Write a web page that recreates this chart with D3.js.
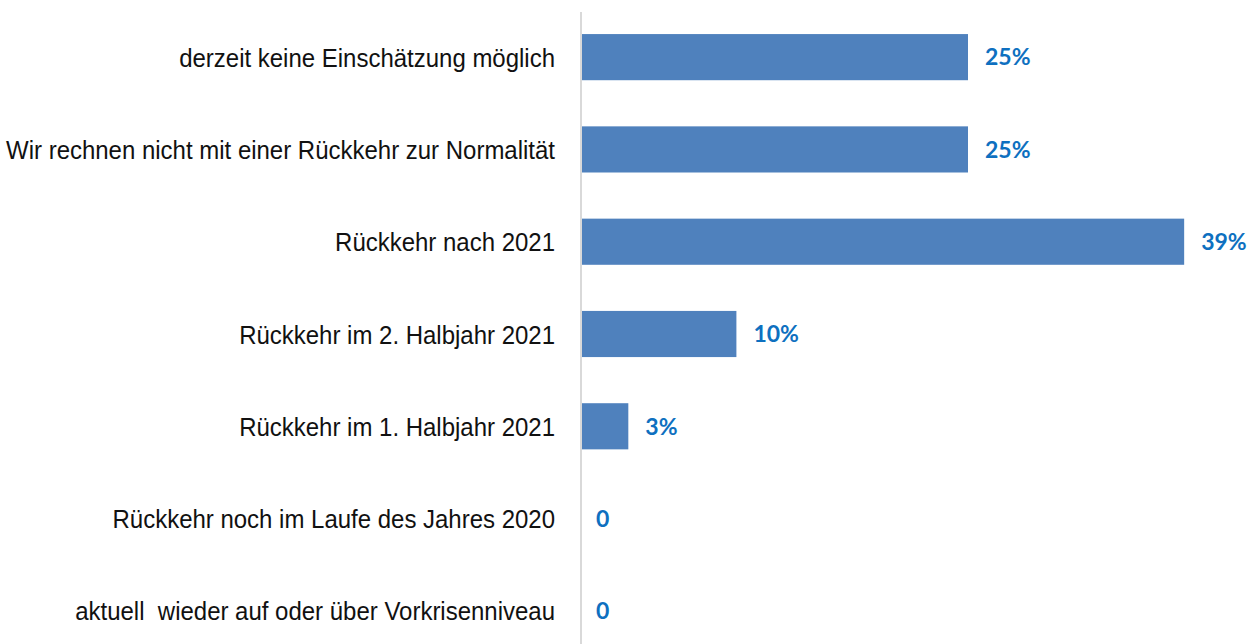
<!DOCTYPE html>
<html><head><meta charset="utf-8">
<script src="https://cdn.jsdelivr.net/npm/d3@7"></script>
<style>html,body{margin:0;padding:0;background:#fff;overflow:hidden}</style>
</head><body>
<svg id="c" width="1257" height="644"></svg>
<script>
const categories = [
  "derzeit keine Einschätzung möglich",
  "Wir rechnen nicht mit einer Rückkehr zur Normalität",
  "Rückkehr nach 2021",
  "Rückkehr im 2. Halbjahr 2021",
  "Rückkehr im 1. Halbjahr 2021",
  "Rückkehr noch im Laufe des Jahres 2020",
  "aktuell  wieder auf oder über Vorkrisenniveau"
];
const values = [25, 25, 39, 10, 3, 0, 0];
const valueLabels = ["25%", "25%", "39%", "10%", "3%", "0", "0"];

const svg = d3.select("#c");
const x0 = 582;
const x = d3.scaleLinear().domain([0, 25]).range([x0, 968]);
const y = d3.scaleBand().domain(categories).range([11, 657]).paddingInner(0.5).paddingOuter(0.25);

svg.append("g").selectAll("rect").data(categories).join("rect")
  .attr("x", x(0))
  .attr("y", d => y(d))
  .attr("width", (d, i) => x(values[i]) - x(0))
  .attr("height", y.bandwidth())
  .attr("fill", "#4f81bd");

svg.append("line")
  .attr("x1", x0 - 1).attr("x2", x0 - 1)
  .attr("y1", 12).attr("y2", 644)
  .attr("stroke", "#d9d9d9").attr("stroke-width", 2);

svg.append("g").selectAll("text").data(categories).join("text")
  .attr("transform", d => `translate(555,${y(d) + y.bandwidth() / 2}) scale(0.905,1)`)
  .attr("dy", "0.36em")
  .attr("text-anchor", "end")
  .attr("font-family", "'Liberation Sans', Arial, sans-serif")
  .attr("font-size", 26.5)
  .attr("fill", "#111")
  .style("white-space", "pre")
  .text(d => d);

svg.append("g").selectAll("text").data(categories).join("text")
  .attr("x", (d, i) => x(values[i]) + (values[i] > 0 ? 17 : 14))
  .attr("y", d => y(d) + y.bandwidth() / 2)
  .attr("dy", "0.36em")
  .attr("font-family", "Lato, 'Open Sans', sans-serif")
  .attr("font-weight", "bold")
  .attr("font-size", 23)
  .attr("fill", "#0e70c0")
  .text((d, i) => valueLabels[i]);
</script>
</body></html>
